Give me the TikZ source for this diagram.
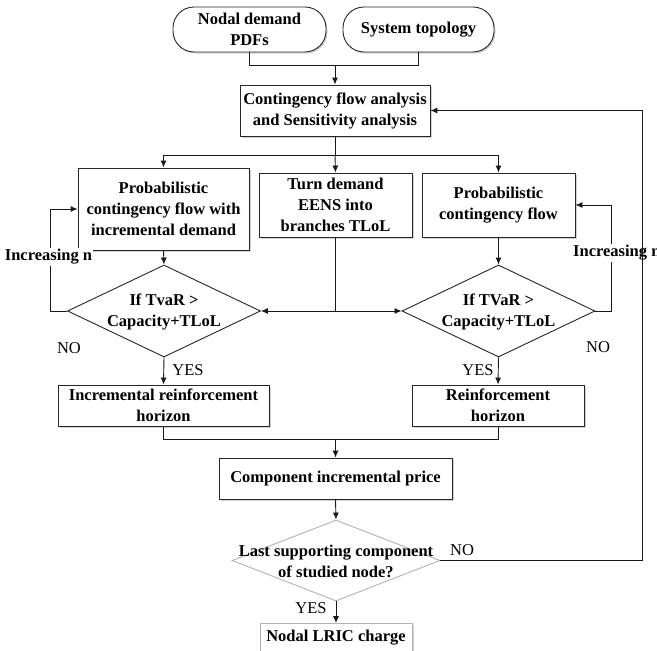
\documentclass[tikz,border=0pt]{standalone}
\usepackage{fontspec}
\setmainfont{Liberation Serif}
\usetikzlibrary{shapes.geometric,arrows.meta,shadows}
\begin{document}
\begin{tikzpicture}[x=1pt,y=-1pt,
  bf/.style={font=\fontsize{16.5}{21}\selectfont\bfseries},
  rg/.style={font=\fontsize{16.5}{21}\selectfont},
  shd/.style={drop shadow={shadow xshift=1.5pt,shadow yshift=-1.5pt,opacity=0.35,fill=gray}},
  box/.style={bf,draw=black!85,line width=0.9pt,fill=white,align=center,inner sep=0pt,shd},
  term/.style={box,rounded corners=21pt},
  dia/.style={diamond,draw=black!85,line width=0.9pt,fill=white,inner sep=0pt},
  lbox/.style={box,draw=black!30},
  ldia/.style={dia,draw=black!30},
  txt/.style={bf,align=center,inner sep=0pt},
  lab/.style={rg,inner sep=1pt},
  wlab/.style={bf,fill=white,inner sep=1pt},
  ln/.style={line width=0.9pt,draw=black!90},
  arr/.style={ln,-{Latex[length=7pt,width=6pt]}}
]
\clip (0,0) rectangle (657,651);
\fill[white] (0,0) rectangle (657,651);

% nodes
\node[term,minimum width=153,minimum height=45] (n1) at (249.5,29.5) {Nodal demand\\PDFs};
\node[term,minimum width=151,minimum height=45] (n2) at (418.5,29.5) {System topology};
\node[box,minimum width=190,minimum height=51] (cfa) at (335,110.5) {Contingency flow analysis\\and Sensitivity analysis};
\node[box,minimum width=171,minimum height=82] (pc1) at (163.5,209) {Probabilistic\\contingency flow with\\incremental demand};
\node[box,minimum width=153,minimum height=64] (td) at (335.5,205) {Turn demand\\EENS into\\branches TLoL};
\node[box,minimum width=153,minimum height=64] (pc2) at (498.5,205) {Probabilistic\\contingency flow};
\node[dia,minimum width=193,minimum height=92] (d1) at (164,311) {};
\node[txt] (d1t) at (164,312) {If TvaR >\\Capacity+TLoL};
\node[dia,minimum width=193,minimum height=92] (d2) at (498.5,311) {};
\node[txt] (d2t) at (498.5,312) {If TVaR >\\Capacity+TLoL};
\node[box,minimum width=211,minimum height=41] (irh) at (163.5,405.5) {Incremental reinforcement\\horizon};
\node[box,minimum width=172,minimum height=41] (rh) at (498,405.5) {Reinforcement\\horizon};
\node[box,minimum width=233,minimum height=41] (cip) at (335.5,478.5) {Component incremental price};
\node[ldia,minimum width=208,minimum height=81] (d3) at (336,560.5) {};
\node[txt] (d3t) at (336,561) {Last supporting component\\of studied node?};
\node[lbox,minimum width=152,minimum height=34,anchor=north] (lric) at (336,623) {};
\node[txt] (lrict) at (336,638) {Nodal LRIC charge};

% coordinates
\coordinate (j1) at (335,65);
\coordinate (j2) at (335,155);
\coordinate (j3) at (335.5,311);
\coordinate (j4) at (335.5,439);
\coordinate (xl) at (50,0);
\coordinate (xr) at (611,0);
\coordinate (xf) at (642,0);

% connectors
\draw[ln] (n1.south) |- (j1);
\draw[ln] (n2.south) |- (j1);
\draw[arr] (j1) -- (cfa.north);
\draw[ln] (cfa.south) -- (j2);
\draw[arr] (j2) -- (td.north);
\draw[arr] (j2) -| (pc1.north);
\draw[arr] (j2) -| (pc2.north);
\draw[arr] (pc1.south) -- (d1.north);
\draw[arr] (pc2.south) -- (d2.north);
\draw[ln] (td.south) -- (j3);
\draw[arr] (j3) -- (d1.east);
\draw[arr] (j3) -- (d2.west);
\draw[arr] (d1.west) -- (d1.west -| xl) |- (pc1.west);
\draw[arr] (d2.east) -- (d2.east -| xr) |- (pc2.east);
\draw[arr] (d1.south) -- (irh.north);
\draw[arr] (d2.south) -- (rh.north);
\draw[ln] (irh.south) |- (j4);
\draw[ln] (rh.south) |- (j4);
\draw[arr] (j4) -- (cip.north);
\draw[arr] (cip.south) -- (d3.north);
\draw[arr] (d3.south) -- (lric.north);

% labels
\node[wlab] (inc1) at (48.5,257) {Increasing n};
\node[wlab,anchor=west] (inc2) at (572,253) {Increasing n};
\draw[arr] (d3.east) -- (d3.east -| xf) |- (cfa.east);
\node[lab] (no1) at (69,348) {NO};
\node[lab] (no2) at (598,347) {NO};
\node[lab] (yes1) at (188,370) {YES};
\node[lab] (yes2) at (478,370) {YES};
\node[lab] (no3) at (462,550) {NO};
\node[lab] (yes3) at (311,608) {YES};
\end{tikzpicture}
\end{document}
